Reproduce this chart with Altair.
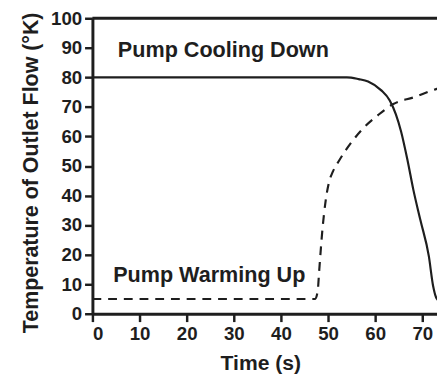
import altair as alt
import pandas as pd

# Pump cooling down (solid)
cool_t = [0, 54, 56.5, 58.5, 61.3, 63.1, 64.4, 65.5, 66.9, 68.1, 69.6, 71.4, 72.3, 73.1, 74.0]
cool_T = [80, 80, 79.4, 78.6, 75.6, 72.2, 67.5, 61.7, 51.7, 42.0, 31.7, 19.4, 9.4, 5.0, 4.0]

# Pump warming up (dashed)
warm_t = [0, 47.2, 47.8, 48.1, 48.8, 49.5, 50.2, 51.0, 52.3, 55.1, 57.8, 60.6, 63.75, 68.3, 73.1, 74.0]
warm_T = [5, 5, 7.5, 14.0, 28.3, 38.3, 44.5, 48.0, 51.7, 58.3, 63.3, 67.2, 70.9, 73.3, 76.1, 76.5]

x_ticks = [0, 10, 20, 30, 40, 50, 60, 70]
y_ticks = [0, 10, 20, 30, 40, 50, 60, 70, 80, 90, 100]

labels = ["Pump Cooling Down", "Pump Warming Up"]
label_t = [5.4, 4.4]
label_T = [87.0, 10.6]

X_MAX = 73.125
FONT = "Liberation Sans"
INK = "#1e1e1e"

cool = pd.DataFrame({"t": cool_t, "T": cool_T})
warm = pd.DataFrame({"t": warm_t, "T": warm_T})
ann = pd.DataFrame({"label": labels, "t": label_t, "T": label_T, "v": [100, 100]})

xs = alt.Scale(domain=[0, X_MAX], nice=False, zero=False)
ys = alt.Scale(domain=[0, 100], nice=False)

x_axis = alt.Axis(values=x_ticks, title="Time (s)", titleX=171, titleY=57,
                  titleBaseline="alphabetic", titleFontSize=21.5, labelOverlap=False)
y_axis = alt.Axis(values=y_ticks, title="Temperature of Outlet Flow (°K)",
                  titleX=-56, titleY=157, titleAngle=270, titleAlign="center",
                  titleBaseline="alphabetic", titleFontSize=21.8, labelOverlap=False)

X = alt.X("t:Q", scale=xs, axis=x_axis)
Y = alt.Y("T:Q", scale=ys, axis=y_axis)

solid = alt.Chart(cool).mark_line(color=INK, strokeWidth=2.2, interpolate="monotone", clip=True).encode(
    x=X, y=Y,
)

dashed = alt.Chart(warm).mark_line(color=INK, strokeWidth=2.2, strokeDash=[9, 7],
                                   interpolate="monotone", clip=True).encode(
    x=X, y=Y,
)

top = alt.Chart(ann.head(1)).mark_rule(color=INK, strokeWidth=3).encode(
    y=alt.Y("v:Q", scale=ys, axis=y_axis),
)

text = alt.Chart(ann).mark_text(align="left", baseline="alphabetic", font=FONT,
                                fontWeight="bold", fontSize=22, color=INK).encode(
    x=X, y=Y,
    text="label:N",
)

chart = alt.layer(solid, dashed, top, text).properties(
    width=351, height=301,
    autosize=alt.AutoSizeParams(type="none"),
    padding={"left": 86, "top": 7, "right": 0, "bottom": 62},
).configure_view(stroke=None).configure_axis(
    grid=False, domainColor=INK, domainWidth=3, tickColor=INK, tickWidth=2.5,
    tickSize=8, labelPadding=3, labelFont=FONT, labelFontWeight="bold",
    labelFontSize=19, labelColor=INK, titleFont=FONT, titleFontWeight="bold",
    titleColor=INK,
).configure_axisY(labelBaseline="middle")

chart.save("out.html", embed_options={"renderer": "svg", "actions": False})
